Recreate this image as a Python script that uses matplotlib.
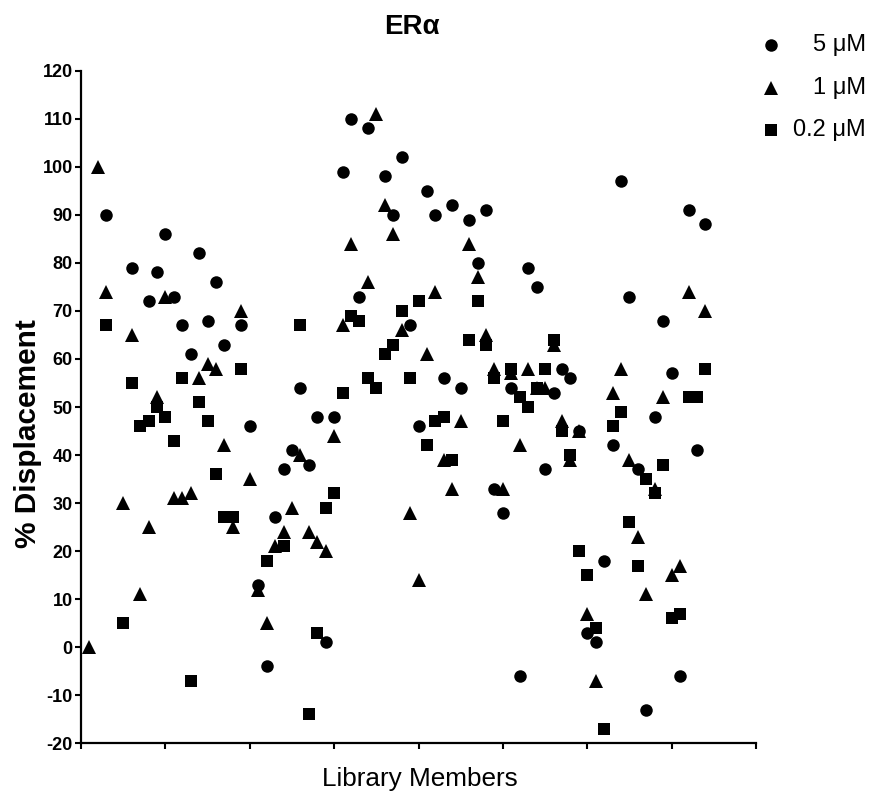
import numpy as np
import matplotlib
matplotlib.use("Agg")
import matplotlib.pyplot as plt
from matplotlib.lines import Line2D

nan = np.nan
members = list(range(1, 75))

# % displacement per library member (index 1..74); nan = no point visible
conc_5uM = [nan, nan, 90, nan, nan, 79, nan, 72, 78, 86,
            73, 67, 61, 82, 68, 76, 63, nan, 67, 46,
            13, -4, 27, 37, 41, 54, 38, 48, 1, 48,
            99, 110, 73, 108, nan, 98, 90, 102, 67, 46,
            95, 90, 56, 92, 54, 89, 80, 91, 33, 28,
            54, -6, 79, 75, 37, 53, 58, 56, 45, 3,
            1, 18, 42, 97, 73, 37, -13, 48, 68, 57,
            -6, 91, 41, 88]
conc_1uM = [0, 100, 74, nan, 30, 65, 11, 25, 52, 73,
            31, 31, 32, 56, 59, 58, 42, 25, 70, 35,
            12, 5, 21, 24, 29, 40, 24, 22, 20, 44,
            67, 84, nan, 76, 111, 92, 86, 66, 28, 14,
            61, 74, 39, 33, 47, 84, 77, 65, 58, 33,
            57, 42, 58, 54, 54, 63, 47, 39, 45, 7,
            -7, nan, 53, 58, 39, 23, 11, 33, 52, 15,
            17, 74, nan, 70]
conc_02uM = [nan, nan, 67, nan, 5, 55, 46, 47, 50, 48,
             43, 56, -7, 51, 47, 36, 27, 27, 58, nan,
             nan, 18, nan, 21, nan, 67, -14, 3, 29, 32,
             53, 69, 68, 56, 54, 61, 63, 70, 56, 72,
             42, 47, 48, 39, nan, 64, 72, 63, 56, 47,
             58, 52, 50, 54, 58, 64, 45, 40, 20, 15,
             4, -17, 46, 49, 26, 17, 35, 32, 38, 6,
             7, 52, 52, 58]

series_labels = ["5 \u03bcM", "1 \u03bcM", "0.2 \u03bcM"]
yticks = list(range(-20, 121, 10))
xticks = list(range(0, 81, 10))

plt.rcParams['font.family'] = ['Liberation Sans', 'DejaVu Sans']
plt.rcParams['axes.unicode_minus'] = False

W, H = 871, 794
fig = plt.figure(figsize=(W / 100, H / 100), dpi=100)
ax = fig.add_axes([81 / W, 1 - 743.3 / H, (756 - 81) / W, (743.3 - 70.7) / H])

specs = [(conc_5uM, 'o', 9.0), (conc_1uM, '^', 10.0), (conc_02uM, 's', 8.2)]
for vals, mk, ms in specs:
    ax.plot(members, vals, linestyle='none', marker=mk, markersize=ms,
            color='black', markeredgewidth=0, clip_on=False)

ax.set_xlim(0, 80)
ax.set_ylim(-20, 120)
ax.set_yticks(yticks)
ax.set_xticks(xticks)
ax.set_xticklabels([])
for s in ['top', 'right']:
    ax.spines[s].set_visible(False)
for s in ['left', 'bottom']:
    ax.spines[s].set_linewidth(1.6)
ax.tick_params(axis='both', direction='out', length=4, width=1.5, color='black')
ax.tick_params(axis='y', labelsize=13, pad=2)
for lab in ax.get_yticklabels():
    lab.set_fontweight('bold')

fig.text(412 / W, 1 - 27 / H, "ER\u03b1", ha='center', va='center',
         fontsize=20, fontweight='bold')
fig.text(28 / W, 1 - 434 / H, "% Displacement", ha='center', va='center',
         rotation=90, fontsize=21.5, fontweight='bold')
fig.text(420 / W, 1 - 779 / H, "Library Members", ha='center', va='center',
         fontsize=18.8)

# legend
leg_y = [45, 88, 130]
for (vals, mk, ms), lab, yy in zip(specs, series_labels, leg_y):
    fig.add_artist(Line2D([771 / W], [1 - yy / H], marker=mk, markersize=ms,
                          color='black', markeredgewidth=0, linestyle='none',
                          transform=fig.transFigure))
    fig.text(866 / W, 1 - yy / H, lab, ha='right', va='center', fontsize=17)

fig.savefig("out.png", dpi=100)
